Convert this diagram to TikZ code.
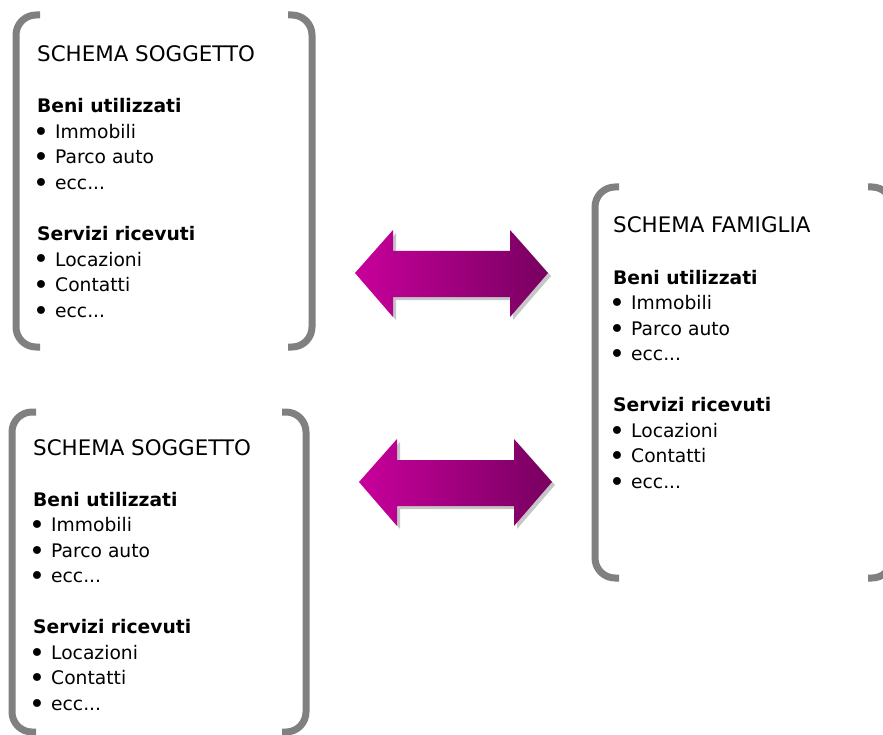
\documentclass[tikz,border=0pt]{standalone}
\usepackage{fontspec}
\setmainfont{DejaVu Sans}
\definecolor{brk}{HTML}{808080}
\definecolor{magA}{HTML}{C8009C}
\definecolor{magB}{HTML}{780060}
\tikzset{
  bracketline/.style={draw=brk, line width=7pt, rounded corners=20pt},
  titletext/.style={anchor=base west, inner sep=0pt, font=\fontsize{21.4}{25}\selectfont},
  headtext/.style={anchor=base west, inner sep=0pt, font=\fontsize{18.7}{25}\selectfont\bfseries},
  itemtext/.style={anchor=base west, inner sep=0pt, font=\fontsize{18.7}{25}\selectfont},
  bulletmark/.style={anchor=base, inner sep=0pt, font=\fontsize{27}{25}\selectfont},
  arrowbody/.style={left color=magA, right color=magB},
  arrowshadow/.style={fill=gray!45},
}
\newcommand\schemaitem[4]{%
  \node[bulletmark] (#1b) at (#2+4,#3+3) {•};
  \node[itemtext] (#1) at (#2+18,#3) {#4};}
\newcommand\schemablock[4]{%
  \node[titletext] (#1-title) at (#2,#3) {#4};
  \node[headtext] (#1-beni) at (#2,#3+51) {Beni utilizzati};
  \schemaitem{#1-immobili}{#2}{#3+76.5}{Immobili}
  \schemaitem{#1-parco}{#2}{#3+102}{Parco auto}
  \schemaitem{#1-eccA}{#2}{#3+127.5}{ecc...}
  \node[headtext] (#1-servizi) at (#2,#3+178.5) {Servizi ricevuti};
  \schemaitem{#1-locazioni}{#2}{#3+204}{Locazioni}
  \schemaitem{#1-contatti}{#2}{#3+229.5}{Contatti}
  \schemaitem{#1-eccB}{#2}{#3+255}{ecc...}}
\newcommand\bracketbox[4]{%
  \draw[bracketline] (#1+24,#2) -- (#1,#2) -- (#1,#4) -- (#1+24,#4);
  \draw[bracketline] (#3-24,#2) -- (#3,#2) -- (#3,#4) -- (#3-24,#4);}
\newcommand\arrowpath{(355,273) -- (393,230) -- (393,251) -- (510,251) -- (510,230) -- (548,273) -- (510,317) -- (510,297) -- (393,297) -- (393,317) -- cycle}
\newcommand\dblarrow[2]{%
  \begin{scope}[shift={(#1+3,#2+3)}]
    \fill[arrowshadow] \arrowpath;
  \end{scope}
  \begin{scope}[shift={(#1,#2)}]
    \shade[arrowbody] \arrowpath;
  \end{scope}}
\begin{document}
\begin{tikzpicture}[x=1pt,y=-1pt]
\useasboundingbox (0,0) rectangle (883,735);
\clip (0,0) rectangle (883,735);
% boxes
\bracketbox{16}{15}{312}{347}
\bracketbox{12}{412}{306}{732}
\bracketbox{595}{187}{892}{578}
% texts
\schemablock{s1}{37}{62}{SCHEMA SOGGETTO}
\schemablock{s2}{33}{455}{SCHEMA SOGGETTO}
\schemablock{fam}{613}{233}{SCHEMA FAMIGLIA}
% arrows
\dblarrow{0}{0}
\dblarrow{4}{209}
\end{tikzpicture}
\end{document}
